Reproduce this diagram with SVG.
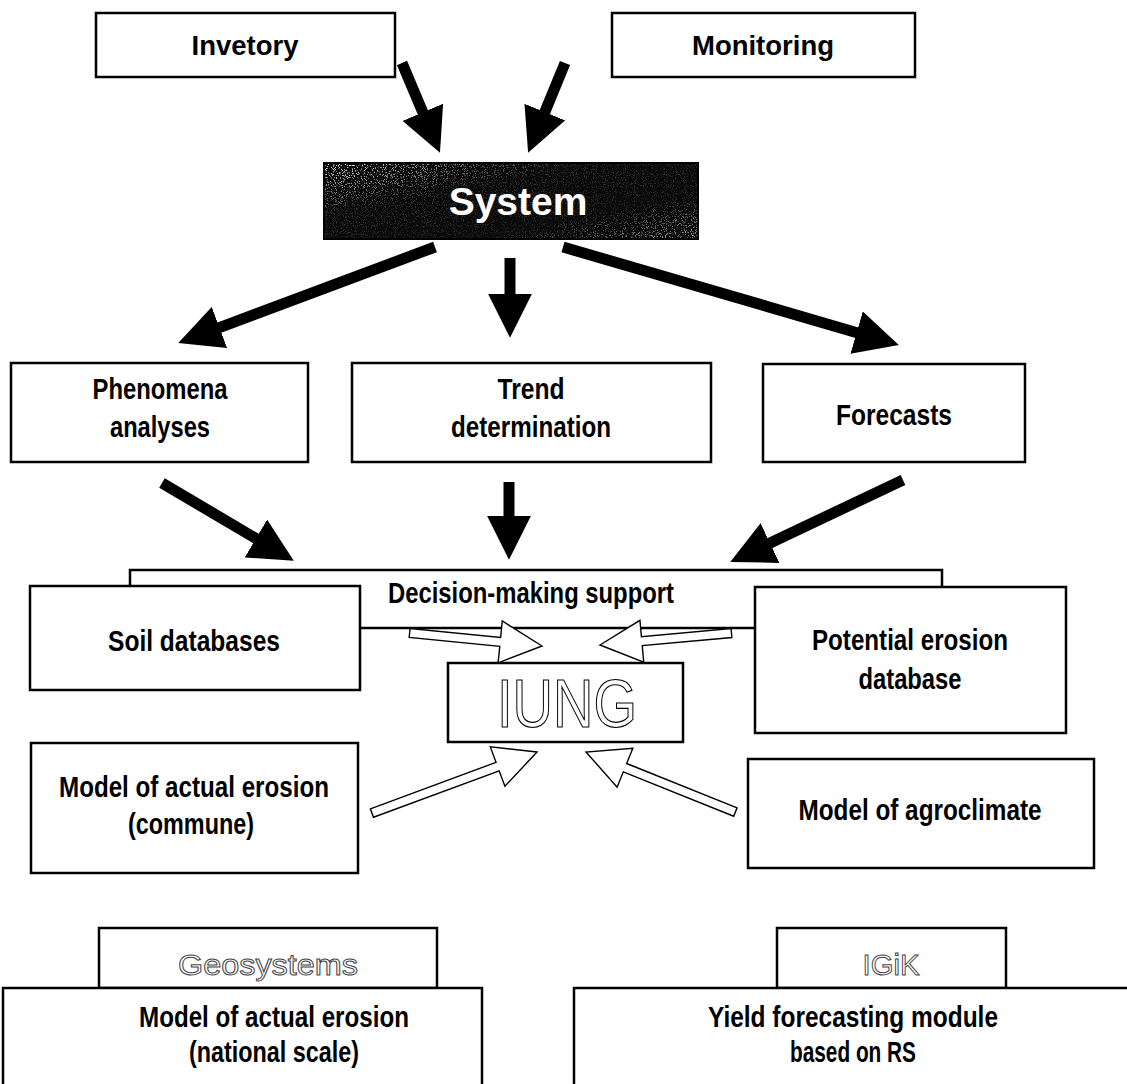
<svg xmlns="http://www.w3.org/2000/svg" width="1127" height="1084" viewBox="0 0 1127 1084">
<style>
  .box { fill: #fff; stroke: #000; stroke-width: 2.5; }
  .t { font-family: "Liberation Sans", Arial, sans-serif; font-weight: bold; fill: #000; text-anchor: middle; }
  .n { font-family: "Liberation Sans Narrow", "Liberation Sans", Arial, sans-serif; font-weight: bold; fill: #000; text-anchor: middle; font-size: 29px; }
  .n30 { font-size: 30px; }
  .o { font-family: "Liberation Sans", Arial, sans-serif; fill: #fff; stroke: #444; stroke-width: 1; text-anchor: middle; }
  .arr { stroke: #000; stroke-width: 11; fill: none; marker-end: url(#ah); }
  .hollow { fill: #fff; stroke: #000; stroke-width: 1.4; stroke-linejoin: miter; }
</style>
<defs>
  <marker id="ah" viewBox="0 0 4 4" refX="0.2" refY="2" markerWidth="4" markerHeight="4" orient="auto" markerUnits="strokeWidth">
    <path d="M0,0 L4,2 L0,4 Z" fill="#000"/>
  </marker>
  <linearGradient id="edge" x1="0" y1="0" x2="1" y2="1">
    <stop offset="0" stop-color="#fff" stop-opacity="0.9"/>
    <stop offset="0.35" stop-color="#fff" stop-opacity="0.15"/>
    <stop offset="0.7" stop-color="#fff" stop-opacity="0.1"/>
    <stop offset="1" stop-color="#fff" stop-opacity="0.6"/>
  </linearGradient>
  <filter id="speck" x="0" y="0" width="100%" height="100%">
    <feTurbulence type="fractalNoise" baseFrequency="0.9" numOctaves="2" seed="4" result="n"/>
    <feColorMatrix in="n" type="matrix" values="0 0 0 0 1  0 0 0 0 1  0 0 0 0 1  10 0 0 0 -5.6" result="w"/>
    <feComposite in="w" in2="SourceGraphic" operator="in"/>
  </filter>
</defs>
<rect width="1127" height="1084" fill="#fff"/>

<g id="invetory">
  <rect class="box" x="96" y="13" width="299" height="64"/>
  <text class="t" x="245" y="55" font-size="27.5">Invetory</text>
</g>
<g id="monitoring">
  <rect class="box" x="612" y="13" width="303" height="64"/>
  <text class="t" x="763" y="55" font-size="27.5">Monitoring</text>
</g>
<g id="system">
  <rect x="324" y="163" width="374" height="76" fill="#0a0a0a" stroke="#000" stroke-width="2"/>
  <rect x="325" y="164" width="372" height="74" fill="url(#edge)" filter="url(#speck)"/>
  <text class="t" x="518" y="215" font-size="39" style="fill:#fff">System</text>
</g>
<g id="phenomena">
  <rect class="box" x="11" y="363" width="297" height="99"/>
  <text class="n" x="160" y="399" textLength="135" lengthAdjust="spacingAndGlyphs">Phenomena</text>
  <text class="n" x="160" y="437" textLength="100" lengthAdjust="spacingAndGlyphs">analyses</text>
</g>
<g id="trend">
  <rect class="box" x="352" y="363" width="359" height="99"/>
  <text class="n" x="531" y="399" textLength="67" lengthAdjust="spacingAndGlyphs">Trend</text>
  <text class="n" x="531" y="437" textLength="160" lengthAdjust="spacingAndGlyphs">determination</text>
</g>
<g id="forecasts">
  <rect class="box" x="763" y="364" width="262" height="98"/>
  <text class="n" x="894" y="425" textLength="116" lengthAdjust="spacingAndGlyphs">Forecasts</text>
</g>
<g id="decision">
  <rect class="box" x="130" y="570" width="812" height="58"/>
  <text class="n" x="531" y="603" textLength="286" lengthAdjust="spacingAndGlyphs">Decision-making support</text>
</g>
<g id="soil">
  <rect class="box" x="30" y="586" width="330" height="104"/>
  <text class="n" x="194" y="651" textLength="172" lengthAdjust="spacingAndGlyphs">Soil databases</text>
</g>
<g id="potential">
  <rect class="box" x="755" y="587" width="311" height="146"/>
  <text class="n" x="910" y="650" textLength="196" lengthAdjust="spacingAndGlyphs">Potential erosion</text>
  <text class="n" x="910" y="689" textLength="103" lengthAdjust="spacingAndGlyphs">database</text>
</g>
<g id="iung">
  <rect class="box" x="448" y="663" width="235" height="79"/>
  <text class="o" x="567" y="727" font-size="68" textLength="140" lengthAdjust="spacingAndGlyphs" style="stroke:#000;stroke-width:1.2">IUNG</text>
</g>
<g id="commune">
  <rect class="box" x="31" y="743" width="327" height="130"/>
  <text class="n" x="194" y="797" textLength="270" lengthAdjust="spacingAndGlyphs">Model of actual erosion</text>
  <text class="n" x="191" y="834" textLength="126" lengthAdjust="spacingAndGlyphs">(commune)</text>
</g>
<g id="agroclimate">
  <rect class="box" x="748" y="759" width="346" height="109"/>
  <text class="n" x="920" y="820" textLength="243" lengthAdjust="spacingAndGlyphs">Model of agroclimate</text>
</g>
<g id="geosystems">
  <rect class="box" x="99" y="928" width="338" height="60"/>
  <text class="o" x="268" y="975" font-size="30" textLength="180" lengthAdjust="spacingAndGlyphs">Geosystems</text>
</g>
<g id="national">
  <rect class="box" x="3" y="988" width="479" height="110"/>
  <text class="n n30" x="274" y="1027" textLength="270" lengthAdjust="spacingAndGlyphs">Model of actual erosion</text>
  <text class="n n30" x="274" y="1062" textLength="170" lengthAdjust="spacingAndGlyphs">(national scale)</text>
</g>
<g id="igik">
  <rect class="box" x="777" y="928" width="229" height="60"/>
  <text class="o" x="891" y="975" font-size="30" textLength="57" lengthAdjust="spacingAndGlyphs">IGiK</text>
</g>
<g id="yield">
  <rect class="box" x="574" y="988" width="560" height="110"/>
  <text class="n n30" x="853" y="1027" textLength="290" lengthAdjust="spacingAndGlyphs">Yield forecasting module</text>
  <text class="n n30" x="853" y="1062" textLength="126" lengthAdjust="spacingAndGlyphs">based on RS</text>
</g>

<g id="connectors">
  <line class="arr" x1="402" y1="63" x2="423.7" y2="114.3"/>
  <line class="arr" x1="565" y1="63" x2="544" y2="114.1"/>
  <line class="arr" x1="435" y1="247" x2="217.4" y2="328.3"/>
  <line class="arr" x1="510" y1="258" x2="510" y2="296"/>
  <line class="arr" x1="563" y1="247" x2="858.7" y2="333.2"/>
  <line class="arr" x1="162" y1="483" x2="257.8" y2="539.6"/>
  <line class="arr" x1="509" y1="482" x2="509" y2="518"/>
  <line class="arr" x1="903" y1="480" x2="768" y2="544"/>
  <path class="hollow" d="M0,0 L-42,-21 L-42,-4.5 L-133,-4.5 L-133,4.5 L-42,4.5 L-42,21 Z" transform="translate(542,646) rotate(5.62)"/>
  <path class="hollow" d="M0,0 L-42,-21 L-42,-4.5 L-132,-4.5 L-132,4.5 L-42,4.5 L-42,21 Z" transform="translate(600,645) rotate(174.8)"/>
  <path class="hollow" d="M0,0 L-42,-21 L-42,-4.5 L-176,-4.5 L-176,4.5 L-42,4.5 L-42,21 Z" transform="translate(537,752) rotate(-20.3)"/>
  <path class="hollow" d="M0,0 L-42,-21 L-42,-4.5 L-161,-4.5 L-161,4.5 L-42,4.5 L-42,21 Z" transform="translate(586,752) rotate(201.9)"/>
</g>
</svg>
